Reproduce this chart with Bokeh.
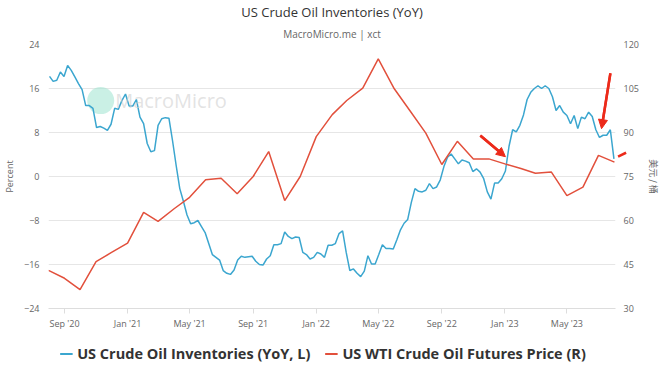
import math
import pandas as pd
from bokeh.plotting import figure
from bokeh.layouts import column
from bokeh.models import (Range1d, LinearAxis, FixedTicker, DatetimeTickFormatter,
                          Legend, LegendItem, Title, Arrow, NormalHead, TeeHead, Label,
                          InlineStyleSheet)
from bokeh.embed import file_html
from bokeh.resources import INLINE

# ---------------- data ----------------
inv_start = "2020-08-03"   # weekly series start
inv_yoy = [
    18.2, 17.3, 17.5, 19.0, 18.2, 20.2, 19.3, 18.1, 16.9, 15.8,
    12.9, 12.9, 12.4, 8.9, 9.1, 8.8, 8.4, 9.5, 12.4, 12.2,
    13.8, 15.0, 12.8, 12.8, 14.0, 10.8, 9.6, 6.0, 4.5, 4.7,
    9.3, 10.5, 10.7, 10.6, 6.5, 2.0, -2.2, -4.5, -7.0, -8.6,
    -8.4, -8.0, -9.1, -10.2, -12.2, -14.2, -14.7, -15.2, -17.1, -17.6,
    -17.8, -17.0, -15.2, -14.5, -14.7, -14.6, -14.5, -15.4, -16.0, -16.1,
    -15.0, -14.4, -12.4, -12.4, -12.2, -10.1, -10.9, -11.3, -11.0, -11.1,
    -13.8, -14.2, -15.0, -14.7, -13.8, -14.1, -14.7, -12.5, -12.5, -12.2,
    -10.4, -9.9, -13.8, -17.1, -16.8, -17.6, -18.2, -17.2, -14.4, -15.9,
    -15.9, -14.2, -12.4, -13.1, -13.1, -13.2, -11.5, -9.7, -8.5, -7.8,
    -4.7, -2.2, -2.7, -2.8, -2.5, -1.3, -2.2, -1.9, -0.6, 1.8,
    3.5, 4.1, 3.2, 2.3, 3.0, 2.8, 2.5, 0.9, 1.4, 0.8,
    -0.4, -2.8, -4.1, -1.2, -1.2, -0.4, 1.0, 5.5, 8.5, 8.1,
    9.3, 11.2, 14.0, 15.3, 16.0, 16.5, 16.0, 16.5, 16.0, 14.5,
    12.0, 12.9, 11.7, 11.1, 9.6, 11.1, 8.7, 10.8, 10.5, 11.7,
    10.9, 8.5, 7.1, 7.5, 7.5, 8.5, 3.2,
]

wti_start = "2020-08-01"   # monthly series start
wti_price = [
    43.0, 40.3, 36.4, 46.0, 49.1, 52.3, 62.8, 59.7, 64.0, 67.9,
    73.9, 74.4, 69.1, 75.0, 83.5, 66.8, 75.0, 88.6, 96.1, 100.9,
    105.1, 115.1, 104.9, 97.5, 89.8, 79.1, 87.0, 81.0, 81.0, 79.3,
    77.7, 76.1, 76.5, 68.5, 71.4, 82.2, 79.9,
]

x_ticks = ["2020-09-01", "2021-01-01", "2021-05-01", "2021-09-01", "2022-01-01",
           "2022-05-01", "2022-09-01", "2023-01-01", "2023-05-01"]
left_ticks = [-24, -16, -8, 0, 8, 16, 24]
right_ticks = [30, 45, 60, 75, 90, 105, 120]

# highlight arrows (date, percent): start -> end
arrow_specs = [
    ("2022-11-15", 7.4, "2023-01-02", 3.6),
    ("2023-07-24", 18.7, "2023-07-07", 8.7),
    ("2023-10-09", 6.5, "2023-08-08", 3.6),   # tail lies in the right margin
]

BLUE = "#3ba6cf"
RED = "#e2503c"
ARROW_RED = "#ec2a1a"
GRID = "#e6e6e6"
TXT = "#666666"
HEAD = 9
FRAME_W, FRAME_H = 567, 264
X0, X1 = "2020-08-01", "2023-08-03"
Y0, Y1 = -24, 24

inv_dates = pd.date_range(inv_start, periods=len(inv_yoy), freq="7D")
wti_dates = pd.date_range(wti_start, periods=len(wti_price), freq="MS")


def ms(d):
    return pd.Timestamp(d).value / 1e6


unclip = InlineStyleSheet(css="""
g, path, svg, div, canvas { clip-path: none !important; overflow: visible !important; }
""")

p = figure(frame_width=FRAME_W, frame_height=FRAME_H,
           x_axis_type="datetime",
           output_backend="svg", toolbar_location=None,
           x_range=Range1d(ms(X0), ms(X1)),
           y_range=Range1d(Y0, Y1),
           min_border_left=0, min_border_right=0,
           min_border_top=0, min_border_bottom=0)
p.stylesheets = [unclip]
p.outline_line_color = None
p.background_fill_color = "white"
p.border_fill_color = "white"

p.extra_y_ranges = {"price": Range1d(30, 120)}

# titles
sub = Title(text="MacroMicro.me | xct", align="center", text_font_size="10px",
            text_font="Open Sans", text_color="#666666", text_font_style="normal",
            standoff=8, offset=0)
p.add_layout(sub, "above")
p.title.text = "US Crude Oil Inventories (YoY)"
p.title.align = "center"
p.title.text_font = "Open Sans"
p.title.text_font_size = "13px"
p.title.text_font_style = "normal"
p.title.text_color = "#333333"
p.title.standoff = 0

# x axis
xa = p.xaxis[0]
xa.ticker = FixedTicker(ticks=[ms(d) for d in x_ticks])
xa.formatter = DatetimeTickFormatter(months="%b '%y", days="%b '%y", years="%b '%y")
xa.axis_line_color = "#dddddd"
xa.major_tick_line_color = "#dddddd"
xa.major_tick_in = 0
xa.major_tick_out = 5
xa.minor_tick_line_color = None
xa.major_label_text_font = "Open Sans"
xa.major_label_text_font_size = "9px"
xa.major_label_text_color = TXT
xa.major_label_standoff = 3

# left axis
ya = p.yaxis[0]
ya.ticker = FixedTicker(ticks=left_ticks)
ya.axis_line_color = None
ya.major_tick_line_color = None
ya.minor_tick_line_color = None
ya.major_tick_out = 0
ya.major_tick_in = 0
ya.major_label_text_font = "Open Sans"
ya.major_label_text_font_size = "9px"
ya.major_label_text_color = TXT
ya.major_label_standoff = 9
ya.axis_label = "Percent"
ya.axis_label_text_font = "Open Sans"
ya.axis_label_text_font_size = "9px"
ya.axis_label_text_font_style = "normal"
ya.axis_label_text_color = TXT
ya.axis_label_standoff = 5

# right axis
ra = LinearAxis(y_range_name="price", ticker=FixedTicker(ticks=right_ticks))
ra.axis_line_color = None
ra.major_tick_line_color = None
ra.minor_tick_line_color = None
ra.major_tick_out = 0
ra.major_tick_in = 0
ra.major_label_text_font = "Open Sans"
ra.major_label_text_font_size = "9px"
ra.major_label_text_color = TXT
ra.major_label_standoff = 8
ra.axis_label = "美元 / 桶"
ra.axis_label_text_font = "Noto Sans CJK SC"
ra.axis_label_text_font_size = "9px"
ra.axis_label_text_font_style = "normal"
ra.axis_label_text_color = TXT
ra.axis_label_standoff = 5
p.add_layout(ra, "right")

p.xgrid.grid_line_color = None
p.ygrid.grid_line_color = GRID
p.ygrid.ticker = FixedTicker(ticks=left_ticks)

# watermark
p.scatter(x=[ms("2020-11-10")], y=[13.8], size=27, marker="circle",
          fill_color="#9fe3cf", fill_alpha=0.55, line_color=None)
p.add_layout(Label(x=ms("2020-12-08"), y=13.8, text="MacroMicro",
                   text_font="Open Sans", text_font_size="20px",
                   text_color="#d0d0d0", text_alpha=0.6,
                   text_baseline="middle"))

# series
r_inv = p.line(inv_dates, inv_yoy, line_color=BLUE, line_width=1.5)
r_wti = p.line(wti_dates, wti_price, line_color=RED, line_width=1.5,
               y_range_name="price")

# arrows
px_per_x = FRAME_W / (ms(X1) - ms(X0))
px_per_y = FRAME_H / (Y1 - Y0)
for xs, ys, xe, ye in arrow_specs:
    x_s, x_e = ms(xs), ms(xe)
    p.add_layout(Arrow(end=NormalHead(size=HEAD, fill_color=ARROW_RED, line_color=ARROW_RED),
                       x_start=x_s, y_start=ys, x_end=x_e, y_end=ye,
                       line_color=ARROW_RED, line_width=2.5))
    # shaft drawn as a tee bar too, so a tail outside the frame stays visible
    dx = (x_s - x_e) * px_per_x
    dy = (ys - ye) * px_per_y
    L = math.hypot(dx, dy)
    ux, uy = dx / L, dy / L
    c = (HEAD + L) / 2
    mx, my = ux * c, uy * c              # shaft midpoint, px from tip
    nx, ny = -uy, ux                     # perpendicular
    p.add_layout(Arrow(end=TeeHead(size=L - HEAD + 1, line_color=ARROW_RED, line_width=2.5),
                       x_start=x_e + (mx - 6 * nx) / px_per_x,
                       y_start=ye + (my - 6 * ny) / px_per_y,
                       x_end=x_e + mx / px_per_x, y_end=ye + my / px_per_y,
                       line_color=ARROW_RED, line_width=2.5, line_alpha=0))

# legend strip (separate small figure under the chart)
lg = figure(width=644, height=42, output_backend="svg", toolbar_location=None,
            x_axis_location=None, y_axis_location=None,
            x_range=Range1d(0, 1), y_range=Range1d(0, 1),
            min_border_left=0, min_border_right=0,
            min_border_top=0, min_border_bottom=0)
lg.outline_line_color = None
lg.xgrid.visible = False
lg.ygrid.visible = False
l_inv = lg.line(x=[5, 6], y=[5, 6], line_color=BLUE, line_width=2)
l_wti = lg.line(x=[5, 6], y=[5, 6], line_color=RED, line_width=2)

legend = Legend(items=[
    LegendItem(label="US Crude Oil Inventories (YoY, L)", renderers=[l_inv]),
    LegendItem(label="US WTI Crude Oil Futures Price (R)", renderers=[l_wti]),
], orientation="horizontal", location="center",
    label_text_font="Open Sans", label_text_font_size="14.5px",
    label_text_font_style="bold", label_text_color="#333333",
    glyph_width=13, glyph_height=12, spacing=14, padding=0, margin=0,
    border_line_color=None, background_fill_alpha=0, label_standoff=5)
lg.add_layout(legend, "center")

layout = column(p, lg, spacing=0)

open("out.html", "w").write(file_html(layout, INLINE))
